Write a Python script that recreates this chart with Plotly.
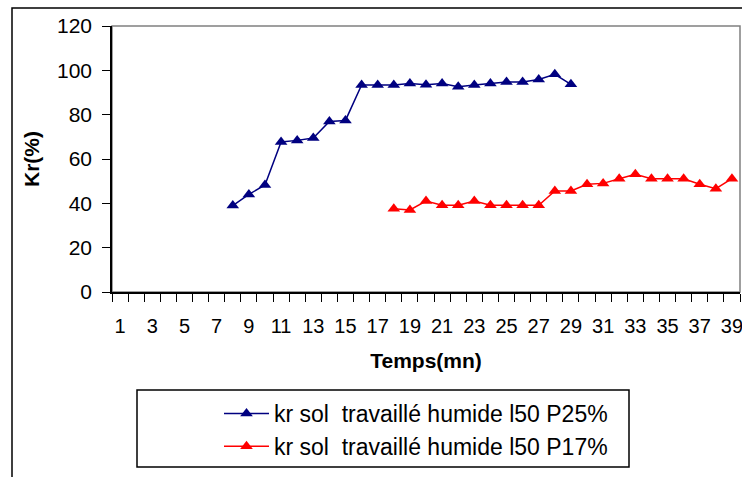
import plotly.graph_objects as go

# Data
time_p25 = list(range(8, 30))
kr_p25 = [39, 44, 48.3, 67.7, 68.4, 69.5, 76.9, 77.4, 93.4, 93.4, 93.4, 94.1, 93.5, 94.1,
          92.6, 93.4, 94.1, 94.7, 94.7, 95.9, 98.2, 93.7]
time_p17 = list(range(18, 40))
kr_p17 = [37.6, 37, 41, 39.1, 39.1, 41, 39.1, 39.1, 39.1, 39.1, 45.6, 45.6, 48.6, 49,
          51.1, 53.1, 51.1, 51.1, 51.1, 48.6, 46.6, 51.1]
x_tick_labels = [str(v) for v in range(1, 40, 2)]
y_ticks = [0, 20, 40, 60, 80, 100, 120]

name_p25 = "kr sol  travaillé humide l50 P25%"
name_p17 = "kr sol  travaillé humide l50 P17%"

FONT = "Arial, Liberation Sans, sans-serif"
W, H = 742, 477
ML, MR, MT, MB = 112, 2, 26, 185
PW, PH = W - ML - MR, H - MT - MB


def px_x(p):
    return (p - ML) / PW


def px_y(p):
    return (H - MB - p) / PH


fig = go.Figure()
fig.add_trace(go.Scatter(
    x=time_p25, y=kr_p25, name=name_p25, mode="lines+markers",
    line=dict(color="#000080", width=1.5),
    marker=dict(symbol="triangle-up", size=11, color="#000080"),
    legendgroup="a",
))
fig.add_trace(go.Scatter(
    x=time_p17, y=kr_p17, name=name_p17, mode="lines+markers",
    line=dict(color="#FF0000", width=1.5),
    marker=dict(symbol="triangle-up", size=11, color="#FF0000"),
    legendgroup="b",
))

shapes = [
    # chart area border
    dict(type="rect", xref="paper", yref="paper",
         x0=px_x(12), x1=px_x(760), y0=px_y(500), y1=px_y(8),
         line=dict(color="black", width=1.5), fillcolor="rgba(0,0,0,0)", layer="below"),
    # plot area border (gray)
    dict(type="rect", xref="paper", yref="paper", x0=0, x1=1, y0=0, y1=1,
         line=dict(color="#808080", width=1.5), fillcolor="rgba(0,0,0,0)", layer="below"),
    # legend box
    dict(type="rect", xref="paper", yref="paper",
         x0=px_x(137), x1=px_x(629), y0=px_y(467), y1=px_y(390),
         line=dict(color="black", width=1.5), fillcolor="rgba(0,0,0,0)"),
]

fig.update_layout(
    width=W, height=H,
    margin=dict(l=ML, r=MR, t=MT, b=MB, pad=0, autoexpand=False),
    paper_bgcolor="white", plot_bgcolor="white",
    font=dict(family=FONT, size=20, color="black"),
    showlegend=True,
    legend=dict(
        x=px_x(219), y=px_y(392), xanchor="left", yanchor="top",
        bgcolor="rgba(0,0,0,0)", borderwidth=0,
        font=dict(family=FONT, size=23, color="black"),
        tracegroupgap=20, traceorder="normal", itemwidth=45,
    ),
    shapes=shapes,
    xaxis=dict(
        range=[0.5, 39.5], automargin=False,
        tickmode="array", tickvals=list(range(1, 40, 2)), ticktext=x_tick_labels,
        ticks="", showgrid=False, zeroline=False,
        showline=True, linecolor="black", linewidth=1.5,
        ticklabelstandoff=15, ticklabeloverflow="allow",
        minor=dict(tickmode="linear", tick0=0.5, dtick=1, ticks="outside",
                   ticklen=8, tickcolor="black", tickwidth=1.2, showgrid=False),
        title=dict(text="<b>Temps(mn)</b>", font=dict(family=FONT, size=21), standoff=18),
        fixedrange=True,
    ),
    yaxis=dict(
        range=[0, 120], tickmode="array", tickvals=y_ticks, automargin=False,
        ticks="outside", ticklen=8, tickcolor="black", tickwidth=1.2,
        showgrid=False, zeroline=False,
        showline=True, linecolor="black", linewidth=1.5,
        ticklabelstandoff=6, tickfont=dict(size=21),
        title=dict(text="<b>Kr(%)</b>", font=dict(family=FONT, size=21), standoff=12),
        fixedrange=True,
    ),
)

fig.write_html(
    "out.html",
    config={"displayModeBar": False},
    post_script="document.body.style.margin='0';document.body.style.overflow='hidden';",
)
